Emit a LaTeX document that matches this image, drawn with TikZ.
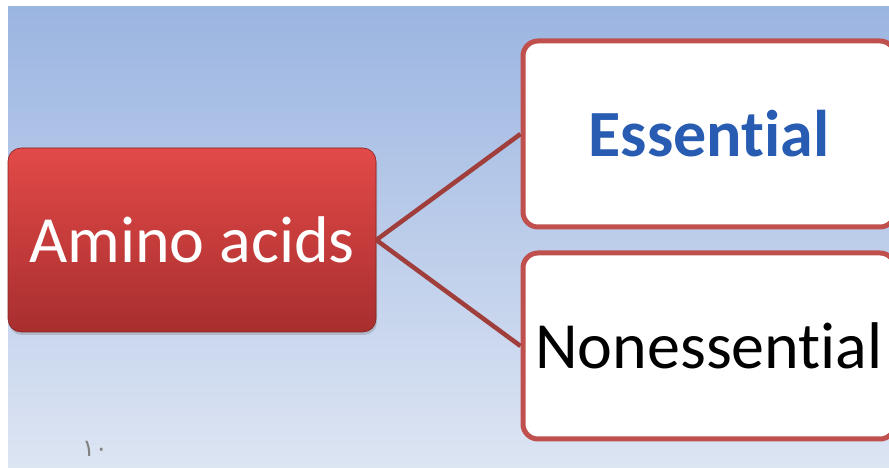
\documentclass[tikz,border=0pt]{standalone}
\usepackage{fontspec}
\setmainfont[RawFeature=-liga]{Carlito}
\newfontfamily\arabicfont[Script=Arabic]{DejaVu Sans}
\usepackage{tikz}
\usetikzlibrary{positioning,shadows}

\definecolor{bgtop}{RGB}{155,181,225}
\definecolor{bgbot}{RGB}{221,229,243}
\definecolor{redtop}{RGB}{226,74,72}
\definecolor{redbot}{RGB}{168,46,46}
\definecolor{redline}{RGB}{192,80,77}
\definecolor{linkred}{RGB}{160,62,60}
\definecolor{esblue}{RGB}{40,92,178}

\tikzset{
  mainbox/.style={rectangle, rounded corners=13pt, top color=redtop, bottom color=redbot,
    draw=redbot!80!black, line width=0.6pt, minimum width=368pt, minimum height=184pt,
    text=white, font=\fontsize{66}{70}\selectfont,
    drop shadow={shadow xshift=1pt, shadow yshift=-3pt, opacity=0.35}},
  classbox/.style={rectangle, rounded corners=15pt, fill=white, draw=redline,
    line width=5pt, minimum width=372pt, minimum height=186pt,
    font=\fontsize{66}{70}\selectfont},
  link/.style={draw=linkred, line width=4.5pt}
}

\begin{document}
\begin{tikzpicture}[x=1pt,y=1pt]
  \useasboundingbox (0,0) rectangle (889,468);
  \shade[top color=bgtop, bottom color=bgbot] (8,0) rectangle (889,461);

  \node[mainbox] (amino) at (192,228) {Amino acids};
  \node[classbox, text=esblue] (essential) at (709,334) {\bfseries Essential};
  \node[classbox] (nonessential) at (709,122) {Nonessential};

  \draw[link] (amino.east) -- (essential.west);
  \draw[link] (amino.east) -- (nonessential.west);

  \node[text=black!50, font=\arabicfont\fontsize{24}{26}\selectfont] (pagenum) at (95,19) {١٠};
\end{tikzpicture}
\end{document}
